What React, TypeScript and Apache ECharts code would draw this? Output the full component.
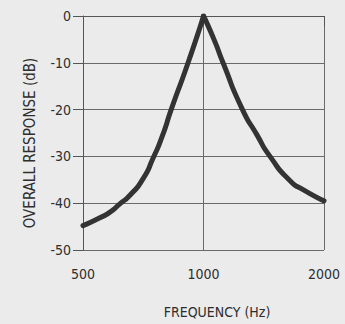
import React, { useEffect, useRef } from "react";
import * as echarts from "echarts";

// Frequency (Hz) and overall response (dB)
const leftFreq = [500, 551, 584, 619, 655, 706, 748, 788, 832, 915, 1000];
const leftDb = [-44.8, -43.1, -41.9, -40.1, -38.3, -34.8, -30.4, -25.8, -19.8, -10, 0];
const rightFreq = [1000, 1062, 1119, 1248, 1360, 1466, 1645, 1773, 2000];
const rightDb = [0, -5, -10, -19.8, -25.4, -30, -35.2, -37.1, -39.5];

const baseFreq = 500;
const freqTicks = [500, 1000, 2000];
const dbMin = -50;
const dbMax = 0;
const dbStep = 10;
const yTitle = "OVERALL RESPONSE (dB)";
const xTitle = "FREQUENCY (Hz)";

const FONT = "'DejaVu Sans Condensed', 'Liberation Sans Narrow', 'DejaVu Sans', sans-serif";
const INK = "#2e2e2e";

const toOct = (f: number) => Math.log2(f / baseFreq);

export default function App() {
  const ref = useRef<HTMLDivElement>(null);
  useEffect(() => {
    if (!ref.current) return;
    const chart = echarts.init(ref.current, undefined, { renderer: "svg" });
    const mk = (fs: number[], ds: number[]) => fs.map((f, i) => [toOct(f), ds[i]]);
    const lineStyle = { color: "#333", width: 5, cap: "round" as const, join: "round" as const };
    chart.setOption({
      animation: false,
      backgroundColor: "#ebebeb",
      grid: { left: 83, right: 21, top: 16, bottom: 68, containLabel: false },
      graphic: [
        {
          type: "text",
          x: 30,
          y: 143,
          rotation: Math.PI / 2,
          style: {
            text: yTitle,
            fontFamily: FONT,
            fontSize: 15,
            fill: INK,
            align: "center",
            verticalAlign: "middle",
          },
        },
      ],
      xAxis: {
        type: "value",
        min: 0,
        max: toOct(freqTicks[freqTicks.length - 1]),
        interval: 1,
        name: xTitle,
        nameLocation: "middle",
        nameGap: 55,
        nameTextStyle: { fontFamily: FONT, fontSize: 14, color: INK, padding: [0, 0, 0, 27] },
        axisLine: { show: true, lineStyle: { color: "#555", width: 1 } },
        axisTick: { show: true, inside: false, length: 10, lineStyle: { color: "#555" } },
        axisLabel: {
          fontFamily: FONT,
          fontSize: 14,
          color: INK,
          margin: 17,
          formatter: (v: number) => String(Math.round(baseFreq * Math.pow(2, v))),
        },
        splitLine: { show: true, lineStyle: { color: "#6a6a6a", width: 1 } },
      },
      yAxis: {
        type: "value",
        min: dbMin,
        max: dbMax,
        interval: dbStep,
        axisLine: { show: true, lineStyle: { color: "#555", width: 1 } },
        axisTick: { show: true, inside: false, length: 10, lineStyle: { color: "#555" } },
        axisLabel: { fontFamily: FONT, fontSize: 14, color: INK, margin: 12 },
        splitLine: { show: true, lineStyle: { color: "#6a6a6a", width: 1 } },
      },
      series: [
        {
          type: "line",
          data: mk(leftFreq, leftDb),
          smooth: 0.7,
          showSymbol: false,
          lineStyle,
        },
        {
          type: "line",
          data: mk(rightFreq, rightDb),
          smooth: 0.7,
          showSymbol: false,
          lineStyle,
        },
      ],
    });
    return () => chart.dispose();
  }, []);
  return <div ref={ref} style={{ width: 345, height: 324, position: "absolute", left: 0, top: 0 }} />;
}
